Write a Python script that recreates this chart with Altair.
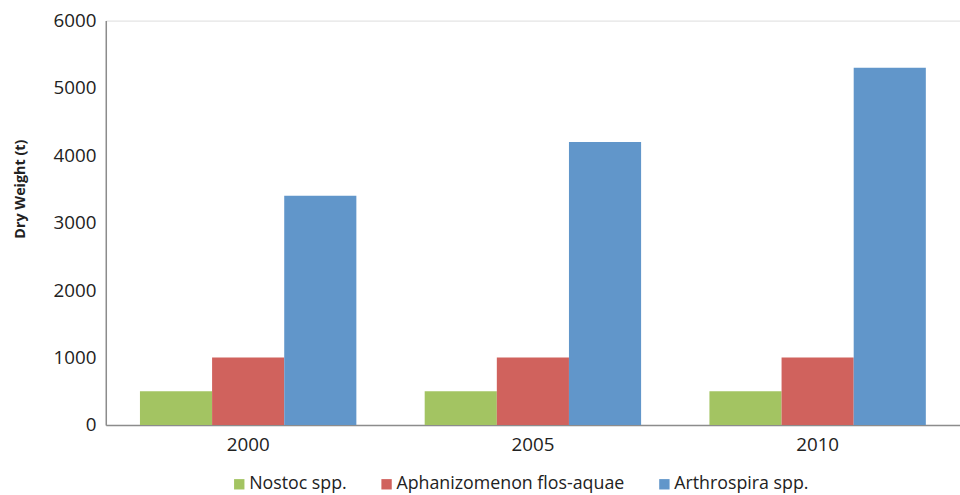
import altair as alt
import pandas as pd

years = ["2000", "2005", "2010"]
species = ["Nostoc spp.", "Aphanizomenon flos-aquae", "Arthrospira spp."]
nostoc = [500, 500, 500]
aphanizomenon = [1000, 1000, 1000]
arthrospira = [3400, 4200, 5300]
colors = ["#A3C462", "#D0625D", "#6196CA"]

rows = []
for series_name, values in zip(species, [nostoc, aphanizomenon, arthrospira]):
    for year, value in zip(years, values):
        rows.append({"Year": year, "Species": series_name, "Dry weight": value})
df = pd.DataFrame(rows)

FONT = "Open Sans"
TEXT = "#222222"
GREY = "#8c8c8c"

chart = alt.Chart(df).mark_bar().encode(
    x=alt.X(
        "Year:N",
        sort=years,
        scale=alt.Scale(paddingInner=0.24, paddingOuter=0.12),
        axis=alt.Axis(
            title=None, labelAngle=0, ticks=False, labelPadding=11,
            labelFontSize=19, labelFont=FONT, labelColor=TEXT,
            domainColor=GREY, domainWidth=1.5,
        ),
    ),
    xOffset=alt.XOffset("Species:N", sort=species),
    y=alt.Y(
        "Dry weight:Q",
        scale=alt.Scale(domain=[0, 6000]),
        axis=alt.Axis(
            title="Dry Weight (t)", values=[0, 1000, 2000, 3000, 4000, 5000, 6000],
            format="d",
            grid=False, ticks=False, labelPadding=10,
            labelFontSize=19, labelFont=FONT, labelColor=TEXT,
            domainColor=GREY, domainWidth=1.5,
            titleFont=FONT, titleFontSize=14.5, titleFontWeight="bold", titleColor=TEXT,
            titleX=-86, titleY=170, titleBaseline="middle", titleAngle=270,
        ),
    ),
    color=alt.Color(
        "Species:N",
        sort=species,
        scale=alt.Scale(domain=species, range=colors),
        legend=alt.Legend(
            title=None, orient="none", direction="horizontal",
            legendX=126, legendY=460, padding=0,
            symbolType="square", symbolSize=110, symbolStrokeWidth=0,
            labelFont=FONT, labelFontSize=18, labelColor=TEXT, labelLimit=400,
            labelOffset=1, columnPadding=31,
        ),
    ),
).properties(
    width=864,
    height=409,
    padding={"left": 107, "top": 18, "right": 0, "bottom": 68},
    autosize=alt.AutoSizeParams(type="none"),
).configure_view(
    stroke=GREY, strokeWidth=1.5,
).configure(background="white")

chart.save("out.html", embed_options={"renderer": "svg", "actions": False})
